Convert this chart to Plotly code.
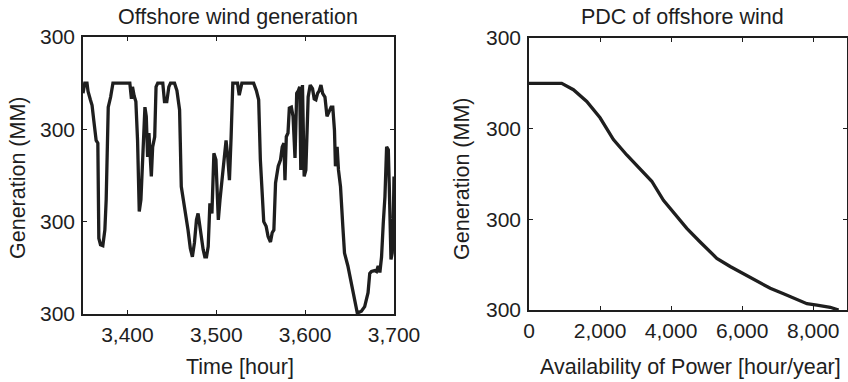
import plotly.graph_objects as go

# ---- data: offshore wind time series ----
hours = [3350, 3352, 3354.5, 3355.7, 3358.3, 3360.2, 3362.1, 3364.8, 3366.7, 3367.8,
         3369.7, 3372.3, 3374.6, 3376.1, 3378.4, 3381.1, 3383.7, 3402.7, 3404.5, 3405.7,
         3407.6, 3409.5, 3411.4, 3413.3, 3415.2, 3417, 3419.7, 3421.2, 3422.7, 3424.2,
         3426.9, 3428.4, 3430.7, 3432.2, 3434.1, 3439.8, 3441.7, 3444.3, 3446.6, 3448.5,
         3453, 3455.7, 3458.7, 3460.6, 3464.4, 3466.3, 3468.2, 3470.8, 3473.1, 3475.4,
         3477.7, 3479.5, 3481.4, 3483.3, 3485.2, 3487.1, 3489, 3490.9, 3492.8, 3495.1,
         3497.3, 3499.6, 3502.3, 3504.2, 3506.8, 3508.7, 3511, 3512.9, 3514.8, 3516.7,
         3518.6, 3523.9, 3525.8, 3528.8, 3542, 3545.1, 3547.7, 3549.6, 3551.5, 3553.4,
         3556.1, 3558.3, 3561, 3562.9, 3564.8, 3566.7, 3569.7, 3572.3, 3574.2, 3576.1,
         3577.3, 3578.8, 3580.7, 3582.2, 3584.5, 3586.4, 3588.6, 3590.5, 3592.4, 3593.9,
         3595.1, 3597, 3598.9, 3600.8, 3603.4, 3605.7, 3608.3, 3610.2, 3612.1, 3614,
         3615.9, 3617.8, 3619.7, 3622.3, 3624.6, 3627.3, 3629.2, 3631.1, 3633, 3634.1,
         3636, 3637.5, 3639.8, 3642.4, 3644.3, 3648.1, 3651.9, 3655.7, 3658.7, 3663.3,
         3667, 3670.8, 3672.7, 3674.6, 3678.4, 3680.3, 3682.2, 3684.1, 3686, 3687.9,
         3689.8, 3691.7, 3693.6, 3694.6, 3695.8, 3696.6, 3698, 3699, 3700]
generation = [239, 250, 250, 241, 232, 226, 210, 188, 185, 82,
              75, 74, 91, 124, 224, 235, 250, 250, 233, 246,
              236, 230, 188, 111, 124, 167, 224, 214, 170, 196,
              149, 181, 192, 246, 250, 250, 230, 230, 246, 250,
              250, 242, 221, 138, 116, 102, 91, 71, 62, 77,
              102, 109, 95, 80, 70, 62, 62, 73, 120, 109,
              174, 167, 102, 124, 152, 170, 188, 170, 145, 192,
              250, 250, 237, 250, 250, 242, 232, 167, 124, 100,
              95, 84, 78, 88, 91, 142, 160, 167, 181, 185,
              145, 192, 196, 223, 224, 214, 169, 239, 242, 246,
              156, 248, 149, 156, 235, 248, 244, 233, 232, 239,
              242, 248, 239, 235, 214, 221, 224, 224, 199, 160,
              181, 156, 138, 95, 66, 52, 34, 12, 1, 3,
              8, 23, 44, 46, 47, 46, 52, 45, 62, 98,
              127, 181, 178, 142, 87, 59, 66, 88, 149]

# ---- data: power duration curve ----
pdc_hours = [0, 920, 1250, 1625, 2000, 2376, 2751, 3127, 3455, 3784,
             4160, 4441, 4817, 5286, 5662, 6038, 6413, 6789, 7164, 7540,
             7822, 8103, 8479, 8714]
pdc_gen = [250, 250, 243, 230, 212, 188, 171, 156, 142, 121,
           103, 90, 75, 57, 48, 40, 31, 24, 18, 12,
           7, 5.5, 3, 0]

y_tickvals = [0, 100, 200, 300]
y_ticktext = ["300", "300", "300", "300"]
x1_tickvals = [3400, 3500, 3600, 3700]
x2_tickvals = [0, 2000, 4000, 6000, 8000]

W, H = 848, 382
FONT = "Liberation Sans, Arial, Helvetica, sans-serif"
INK = "#1e1e1e"
FS_TICK = 21
FS_TITLE = 21.5

fig = go.Figure()
fig.add_trace(go.Scatter(x=hours, y=generation, mode="lines",
                         line=dict(color=INK, width=3.3), xaxis="x", yaxis="y",
                         showlegend=False))
fig.add_trace(go.Scatter(x=pdc_hours, y=pdc_gen, mode="lines",
                         line=dict(color=INK, width=3.3), xaxis="x2", yaxis="y2",
                         showlegend=False))

def px_x(p):
    return p / W

def px_y(p):
    return 1 - p / H

axis_common = dict(showline=True, linecolor=INK, linewidth=1.5, mirror="ticks",
                   ticks="inside", ticklen=4, tickcolor=INK, tickwidth=1,
                   showgrid=False, zeroline=False, automargin=False,
                   tickfont=dict(family=FONT, size=FS_TICK, color=INK))

fig.update_layout(
    template="none",
    width=W, height=H, margin=dict(l=0, r=0, t=0, b=0, pad=0, autoexpand=False),
    paper_bgcolor="white", plot_bgcolor="white",
    xaxis=dict(domain=[px_x(83), px_x(394)], range=[3350, 3700],
               tickvals=x1_tickvals, tickformat=",", anchor="y",
               ticklabelstandoff=1, **axis_common),
    yaxis=dict(domain=[px_y(314), px_y(37)], range=[0, 300],
               tickvals=y_tickvals, ticktext=y_ticktext, anchor="x",
               ticklabelstandoff=2, **axis_common),
    xaxis2=dict(domain=[px_x(529), px_x(847)], range=[0, 8950],
                tickvals=x2_tickvals, tickformat=",", anchor="y2",
                ticklabelstandoff=1, **axis_common),
    yaxis2=dict(domain=[px_y(310), px_y(38)], range=[0, 300],
                tickvals=y_tickvals, ticktext=y_ticktext, anchor="x2",
                ticklabelstandoff=2, **axis_common),
)

def ann(text, x, y, angle=0):
    fig.add_annotation(text=text, x=px_x(x), y=px_y(y), xref="paper", yref="paper",
                       showarrow=False, textangle=angle, xanchor="center", yanchor="middle",
                       font=dict(family=FONT, size=FS_TITLE, color=INK))

ann("Offshore wind generation", 238, 17)
ann("PDC of offshore wind", 682, 17)
ann("Time [hour]", 240, 367)
ann("Availability of Power [hour/year]", 690, 367)
ann("Generation (MM)", 18, 178, -90)
ann("Generation (MM)", 462, 178, -90)

fig.write_html("out.html",
               config={"displayModeBar": False},
               post_script="document.body.style.margin='0px';document.body.style.overflow='hidden';")
